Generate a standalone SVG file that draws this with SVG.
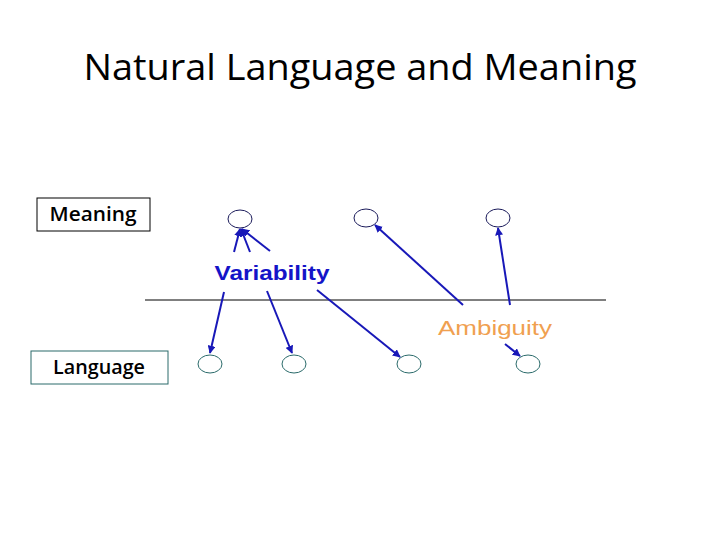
<svg xmlns="http://www.w3.org/2000/svg" width="720" height="540" viewBox="0 0 720 540">
<defs>
<style>
.top{fill:#fff;stroke:#1a1a5a;stroke-width:1}
.bot{fill:#fff;stroke:#2a6a6a;stroke-width:1}
.arr{stroke:#1818b8;stroke-width:2;fill:none;marker-end:url(#ah)}
.box{font-family:"Open Sans","Liberation Sans",sans-serif;font-weight:600;font-size:19px;fill:#000;text-anchor:middle}
</style>
<marker id="ah" viewBox="0 0 10 10" refX="9" refY="5" markerWidth="4" markerHeight="4" orient="auto" markerUnits="strokeWidth">
<path d="M0,0 L10,5 L0,10 z" fill="#1818b8"/>
</marker>
</defs>
<rect width="720" height="540" fill="#fff"/>
<text x="360" y="80" font-family="'Open Sans','Liberation Sans',sans-serif" font-size="36" text-anchor="middle" textLength="553" lengthAdjust="spacingAndGlyphs" fill="#000">Natural Language and Meaning</text>
<g id="meaning-box"><rect x="37" y="198" width="113" height="33" fill="#fff" stroke="#000" stroke-width="1"/><text class="box" x="93" y="221" textLength="87" lengthAdjust="spacingAndGlyphs">Meaning</text></g>
<g id="language-box"><rect x="31" y="351" width="137" height="33" fill="#fff" stroke="#2a6a6a" stroke-width="1"/><text class="box" x="99" y="374" textLength="92" lengthAdjust="spacingAndGlyphs">Language</text></g>
<line x1="145" y1="300" x2="606" y2="300" stroke="#000" stroke-width="1"/>
<g id="m1"><ellipse class="top" cx="240" cy="219" rx="12" ry="9"/></g>
<g id="m2"><ellipse class="top" cx="366" cy="218" rx="12" ry="9"/></g>
<g id="m3"><ellipse class="top" cx="498" cy="218" rx="12" ry="9"/></g>
<g id="l1"><ellipse class="bot" cx="210" cy="364" rx="12" ry="9"/></g>
<g id="l2"><ellipse class="bot" cx="294" cy="364" rx="12" ry="9"/></g>
<g id="l3"><ellipse class="bot" cx="409" cy="364" rx="12" ry="9"/></g>
<g id="l4"><ellipse class="bot" cx="528" cy="364" rx="12" ry="9"/></g>
<g id="connectors">
<line class="arr" x1="234" y1="252" x2="240" y2="229"/>
<line class="arr" x1="250" y1="252" x2="241" y2="229"/>
<line class="arr" x1="270" y1="251" x2="242" y2="229"/>
<line class="arr" x1="224" y1="292" x2="210" y2="353"/>
<line class="arr" x1="267" y1="291" x2="292" y2="353"/>
<line class="arr" x1="317" y1="290" x2="400" y2="357"/>
<line class="arr" x1="463" y1="305" x2="375" y2="225"/>
<line class="arr" x1="510" y1="305" x2="498" y2="228"/>
<line class="arr" x1="505" y1="344" x2="520" y2="356"/>
</g>
<text x="272" y="280" font-family="'Liberation Sans',sans-serif" font-weight="bold" font-size="20" fill="#1414c8" text-anchor="middle" textLength="115" lengthAdjust="spacingAndGlyphs">Variability</text>
<text x="495" y="335" font-family="'Liberation Sans',sans-serif" font-size="20" fill="#f0a050" text-anchor="middle" textLength="114" lengthAdjust="spacingAndGlyphs">Ambiguity</text>
</svg>
